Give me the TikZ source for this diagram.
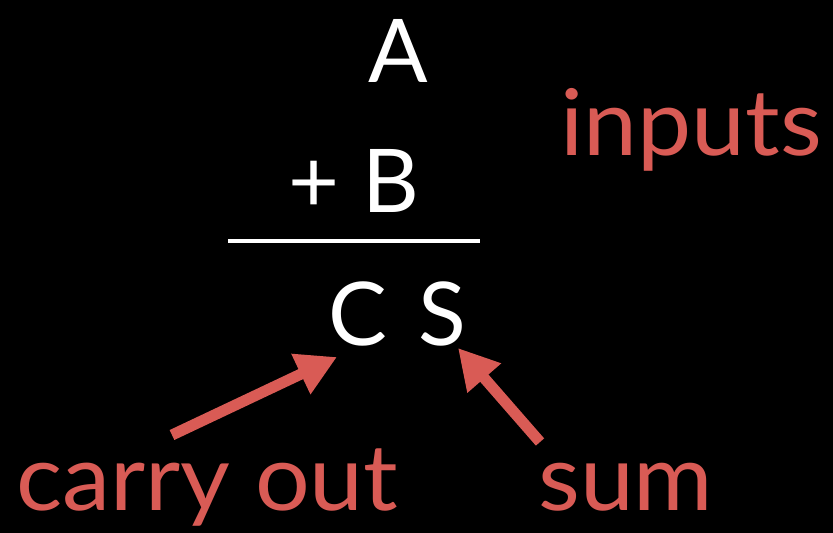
\documentclass[tikz,border=0pt]{standalone}
\usepackage{fontspec}
\setmainfont{Lato}
\newfontfamily\notefont[FakeStretch=1.05]{Lato}
\usepackage{xcolor}
\usetikzlibrary{arrows.meta,positioning}
\definecolor{callred}{HTML}{D95B55}

\begin{document}
\begin{tikzpicture}[x=1pt,y=-1pt,
  digit/.style={text=white,font=\fontsize{88}{88}\selectfont,anchor=base,inner sep=0pt},
  note/.style={text=callred,font=\notefont\fontsize{92}{92}\selectfont,anchor=base west,inner sep=0pt},
  pointer/.style={callred,line width=11pt,-{Triangle[length=40pt,width=42pt]}}]
\fill[black] (0,0) rectangle (833,533);
\useasboundingbox (0,0) rectangle (833,533);
\node[digit] (a) at (398,82) {A};
\node[digit] (b) at (354,212) {+ B};
\draw[white,line width=4pt] (228,241) -- (480,241);
\node[digit,anchor=base west] (c) at (328,345) {C};
\node[digit,anchor=base west] (s) at (418,345) {S};
\node[note] (inputs) at (560,155) {inputs};
\node[note] (carry) at (16,510) {carry out};
\node[note] (sum) at (538,510) {sum};
% arrow ends
\coordinate (ctail) at (172,435);
\coordinate (ctip) at (337,357);
\coordinate (stail) at (540,442);
\coordinate (stip) at (458,348);
\draw[pointer] (ctail) -- (ctip);
\draw[pointer] (stail) -- (stip);
\end{tikzpicture}
\end{document}
